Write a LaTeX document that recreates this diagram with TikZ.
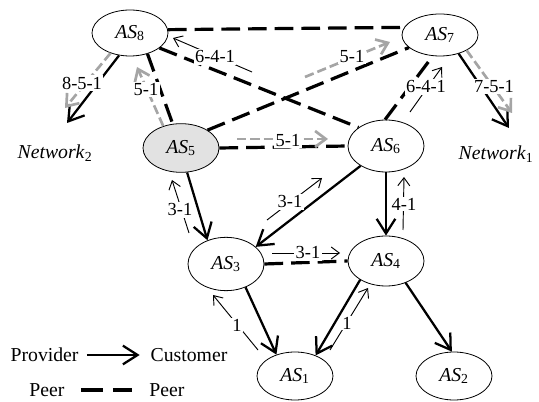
\documentclass[tikz,border=0pt]{standalone}
\usepackage{fontspec}
\setmainfont{Liberation Serif}
\usetikzlibrary{shapes.geometric,arrows.meta}
\definecolor{rtgray}{RGB}{165,165,165}
\definecolor{asfill}{RGB}{226,226,226}
\begin{document}
\begin{tikzpicture}[x=0.75pt,y=-0.75pt,
  asnode/.style={ellipse,draw,line width=0.6pt,minimum width=57pt,minimum height=36pt,inner sep=0pt,font=\fontsize{14.8}{16}\selectfont},
  pc/.style={line width=1.7pt,-{Straight Barb[length=11pt,width=14pt]}},
  peer/.style={line width=2.4pt,dash pattern=on 14pt off 6pt},
  route/.style={rtgray,line width=2pt,dash pattern=on 7pt off 3pt,-{Straight Barb[length=8pt,width=12pt]}},
  ann/.style={line width=0.7pt,-{Straight Barb[length=6pt,width=9pt]}},
  lbl/.style={fill=white,inner sep=1pt,font=\fontsize{13.8}{15}\selectfont},
  txt/.style={inner sep=1pt,font=\fontsize{14.8}{16}\selectfont}]
\useasboundingbox (0,0) rectangle (539,402);
% nodes
\node[asnode,minimum height=34.5pt] (AS8) at (130,33) {\textit{AS}\textsubscript{8}};
\node[asnode,minimum height=31.5pt] (AS7) at (440,35) {\textit{AS}\textsubscript{7}};
\node[asnode,fill=asfill,minimum height=36.5pt] (AS5) at (181,148) {\textit{AS}\textsubscript{5}};
\node[asnode,minimum height=39pt] (AS6) at (386,146) {\textit{AS}\textsubscript{6}};
\node[asnode,minimum height=40pt] (AS3) at (226,264) {\textit{AS}\textsubscript{3}};
\node[asnode,minimum height=37.5pt] (AS4) at (386,261) {\textit{AS}\textsubscript{4}};
\node[asnode] (AS1) at (295,376) {\textit{AS}\textsubscript{1}};
\node[asnode] (AS2) at (454,376) {\textit{AS}\textsubscript{2}};
\node[txt] (net2) at (55,153) {\textit{Network}\textsubscript{2}};
\node[txt] (net1) at (496,154) {\textit{Network}\textsubscript{1}};
% free ends
\coordinate (n2) at (67,123);
\coordinate (n1) at (509,128);
\coordinate (g1e) at (65,108);
\coordinate (g2e) at (137,67);
\coordinate (g3s) at (305,77);
\coordinate (g3e) at (390,42);
\coordinate (g4s) at (237,139);
\coordinate (g4e) at (328,139);
\coordinate (g5e) at (512,113);
\coordinate (t1s) at (252,72);  \coordinate (t1e) at (173,38);
\coordinate (t2s) at (410,112); \coordinate (t2e) at (442,67);
\coordinate (t3s) at (189,233); \coordinate (t3e) at (172,180);
\coordinate (t4s) at (267,220); \coordinate (t4e) at (322,178);
\coordinate (t5s) at (272,253); \coordinate (t5e) at (340,253);
\coordinate (t6s) at (403,230); \coordinate (t6e) at (404,177);
\coordinate (t7s) at (258,350); \coordinate (t7e) at (213,295);
\coordinate (t8s) at (330,350); \coordinate (t8e) at (368,288);
% peer links
\draw[peer] (AS8.5) -- (AS7.168);
\draw[peer] (AS8.-27) -- (AS6.146);
\draw[peer] (AS8.-50) -- (AS5.109);
\draw[peer] (AS5.34) -- (AS7.202);
\draw[peer] (AS5.east) -- (AS6.west);
\draw[peer] (AS6.92) -- (AS7.-109);
\draw[peer] (AS3.east) -- (AS4.west);
% provider -> customer
\draw[pc] (AS8.-116) -- (n2);
\draw[pc] (AS7.-45) -- (n1);
\draw[pc] (AS5.-76) -- (AS3.128);
\draw[pc] (AS6.218) -- (AS3.30);
\draw[pc] (AS6.south) -- (AS4.north);
\draw[pc] (AS3.-50) -- (AS1.131);
\draw[pc] (AS4.216) -- (AS1.45);
\draw[pc] (AS4.-48) -- (AS2.95);
% route announcements (gray)
\draw[route] (AS8.-134) -- (g1e);
\draw[route] (AS5.129) -- (g2e);
\draw[route] (g3s) -- (g3e);
\draw[route] (g4s) -- (g4e);
\draw[route] (AS7.-30) -- (g5e);
% thin annotation arrows
\draw[ann] (t1s) -- (t1e);
\draw[ann] (t2s) -- (t2e);
\draw[ann] (t3s) -- (t3e);
\draw[ann] (t4s) -- (t4e);
\draw[ann] (t5s) -- (t5e);
\draw[ann] (t6s) -- (t6e);
\draw[ann] (t7s) -- (t7e);
\draw[ann] (t8s) -- (t8e);
% labels
\node[lbl] (l851) at (82,83) {8-5-1};
\node[lbl] (l51a) at (146,90) {5-1};
\node[lbl] (l641a) at (215,57) {6-4-1};
\node[lbl] (l51b) at (352,57) {5-1};
\node[lbl] (l51c) at (288,141) {5-1};
\node[lbl] (l641b) at (426,87) {6-4-1};
\node[lbl] (l751) at (494,87) {7-5-1};
\node[lbl] (l31a) at (180,210) {3-1};
\node[lbl] (l31b) at (290,202) {3-1};
\node[lbl] (l31c) at (308,253) {3-1};
\node[lbl] (l41) at (404,204) {4-1};
\node[lbl] (l1a) at (237,325) {1};
\node[lbl] (l1b) at (347,323) {1};
% legend
\node[txt,anchor=west] (prov) at (9,355) {Provider};
\node[txt,anchor=west] (cust) at (149,355) {Customer};
\draw[pc,shorten <=5pt,shorten >=7pt] (prov.east) -- (cust.west);
\node[txt] (peerl) at (47,390) {Peer};
\node[txt] (peerr) at (167,390) {Peer};
\draw[line width=2.8pt,dash pattern=on 16.5pt off 7.5pt,shorten <=11pt,shorten >=12pt] (peerl.east) -- (peerr.west);
\end{tikzpicture}
\end{document}
